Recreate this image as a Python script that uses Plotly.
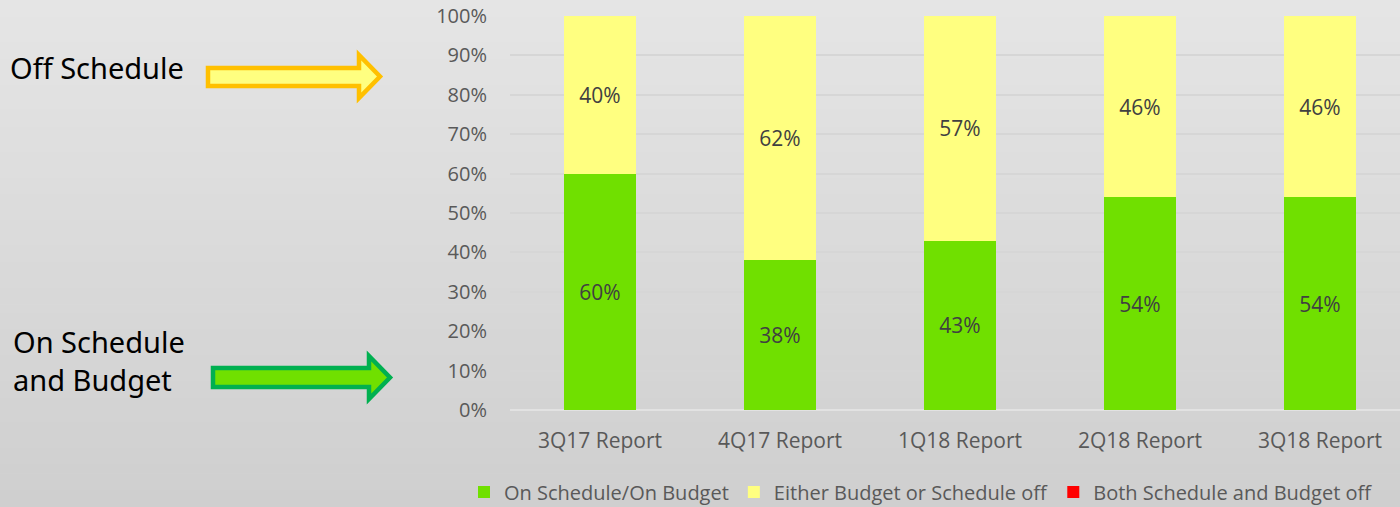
import plotly.graph_objects as go

categories = ["3Q17 Report", "4Q17 Report", "1Q18 Report", "2Q18 Report", "3Q18 Report"]
on_schedule = [60, 38, 43, 54, 54]
either_off = [40, 62, 57, 46, 46]
both_off = [0, 0, 0, 0, 0]
series_names = ["On Schedule/On Budget", "Either Budget or Schedule off", "Both Schedule and Budget off"]
series_colors = ["#70E000", "#FFFF80", "#FF0000"]
y_ticks = list(range(0, 101, 10))

W, H = 1400, 507
L, R, T, B = 510, 0, 16, 97
PW, PH = W - L - R, H - T - B


def px(x):
    return (x - L) / PW


def py(y):
    return (H - B - y) / PH


fig = go.Figure()
for vals, name, col in zip([on_schedule, either_off, both_off], series_names, series_colors):
    fig.add_trace(go.Bar(
        x=categories, y=vals, name=name, marker=dict(color=col, line=dict(width=0)),
        text=[f"{v}%" if v > 0 else "" for v in vals],
        textposition="inside", insidetextanchor="middle",
        textfont=dict(family="Open Sans", size=21, color="#404040"),
        width=0.4, hoverinfo="skip",
    ))

shapes = []
# background vertical gradient
n = 60
top_c, bot_c = (229, 229, 229), (207, 207, 207)
for i in range(n):
    t = i / (n - 1)
    c = tuple(round(top_c[k] + (bot_c[k] - top_c[k]) * t) for k in range(3))
    y0 = i * H / n
    y1 = (i + 1) * H / n + 0.5
    shapes.append(dict(type="rect", xref="paper", yref="paper", layer="below",
                       x0=px(0), x1=px(W), y0=py(y1), y1=py(y0),
                       fillcolor=f"rgb{c}", line=dict(width=0)))


def arrow(x0, xb, xt, yt, yb, ht, hb, ymid, fill, border):
    pts = [(x0, yt), (xb, yt), (xb, ht), (xt, ymid), (xb, hb), (xb, yb), (x0, yb)]
    path = "M " + " L ".join(f"{px(a):.5f},{py(b):.5f}" for a, b in pts) + " Z"
    return dict(type="path", xref="paper", yref="paper", path=path,
                fillcolor=fill, line=dict(color=border, width=4.5), layer="above")


shapes.append(arrow(208, 359, 380, 68, 86, 55, 98, 76.5, "#FFFF80", "#FFC000"))
shapes.append(arrow(213, 369, 390, 368, 387, 356, 399, 377.5, "#70E000", "#00B050"))

annotations = [
    dict(text="Off Schedule", x=px(8), y=py(68), xref="paper", yref="paper",
         xanchor="left", yanchor="middle", showarrow=False,
         font=dict(family="Noto Sans", size=29, color="#000000")),
    dict(text="On Schedule<br>and Budget", x=px(11), y=py(360), xref="paper", yref="paper",
         xanchor="left", yanchor="middle", align="left", showarrow=False,
         font=dict(family="Noto Sans", size=29, color="#000000")),
]

fig.update_layout(
    width=W, height=H, margin=dict(l=L, r=R, t=T, b=B, pad=0, autoexpand=False),
    barmode="stack", bargap=0.6,
    paper_bgcolor="#dadada", plot_bgcolor="rgba(0,0,0,0)",
    shapes=shapes, annotations=annotations,
    font=dict(family="Open Sans", color="#595959"),
    showlegend=True,
    legend=dict(orientation="h", x=px(464), xanchor="left", y=py(492), yanchor="middle",
                font=dict(family="Open Sans", size=20, color="#595959"),
                bgcolor="rgba(0,0,0,0)", traceorder="normal", itemwidth=30),
    xaxis=dict(range=[-0.5, -0.5 + PW / 180], showgrid=False, zeroline=False,
               showline=False, ticks="", tickfont=dict(size=21, color="#595959"),
               ticklabelstandoff=16, fixedrange=True),
    yaxis=dict(range=[0, 100], tickvals=y_ticks, ticktext=[f"{v}%" for v in y_ticks],
               showgrid=True, gridcolor="#d6d6d6", gridwidth=1.5, zeroline=True,
               zerolinecolor="#e2e2e2", zerolinewidth=2, ticks="",
               tickfont=dict(size=20, color="#595959"), ticklabelstandoff=22,
               fixedrange=True),
)

fig.write_html("out.html", config={"displayModeBar": False},
               post_script="document.body.style.margin='0';document.body.style.padding='0';")
